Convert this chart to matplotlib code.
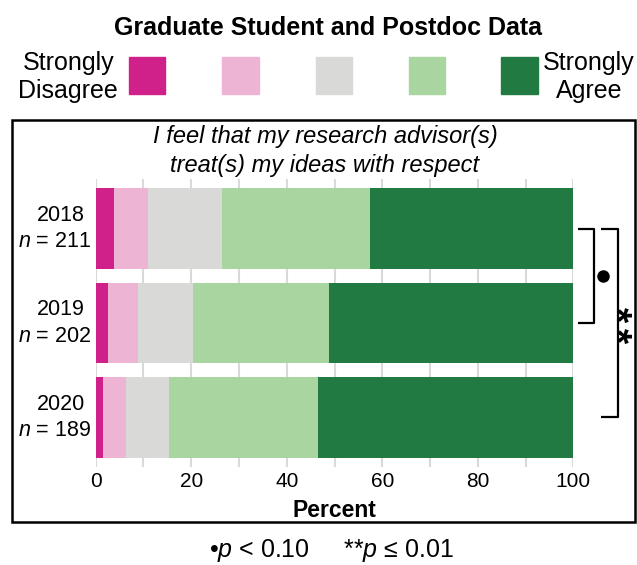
import matplotlib.pyplot as plt
import matplotlib.transforms as mtransforms
import numpy as np
from matplotlib.patches import Rectangle

plt.rcParams['font.family'] = ['Liberation Sans', 'DejaVu Sans']
plt.rcParams['mathtext.fontset'] = 'custom'
plt.rcParams['mathtext.rm'] = 'Liberation Sans'
plt.rcParams['mathtext.it'] = 'Liberation Sans:italic'
plt.rcParams['mathtext.bf'] = 'Liberation Sans:bold'

# cumulative boundaries, converted to segment sizes
years = ['2018', '2019', '2020']
counts = [211, 202, 189]
strongly_disagree = [3.8, 2.6, 1.5]
disagree = [7.1, 6.3, 4.8]
neutral = [15.5, 11.5, 9.0]
agree = [31.0, 28.4, 31.2]
strongly_agree = [42.6, 51.2, 53.5]

colors = ['#d0218a', '#edb5d3', '#d9d9d7', '#a9d5a0', '#207a41']
title = 'Graduate Student and Postdoc Data'
question = 'I feel that my research advisor(s)\ntreat(s) my ideas with respect'

W, H = 637, 565
fig = plt.figure(figsize=(W / 100, H / 100), dpi=100)

def fx(px):
    return px / W

def fy(py):
    return 1 - py / H

ax = fig.add_axes([fx(95.7), fy(467), fx(573.3) - fx(95.7), fy(179) - fy(467)])

series = [strongly_disagree, disagree, neutral, agree, strongly_agree]
ypos = np.arange(len(years))
left = np.zeros(len(years))
for vals, c in zip(series, colors):
    ax.barh(ypos, vals, left=left, height=0.857, color=c, zorder=2)
    left = left + np.array(vals)

ax.set_xlim(0, 100)
ax.set_ylim(2.524, -0.524)
ax.set_xticks(np.arange(0, 101, 20))
ax.set_xticks(np.arange(0, 101, 10), minor=True)
ax.tick_params(axis='x', which='both', length=0, labelsize=15, pad=3.5)
ax.grid(axis='x', which='both', color='#d9d9d9', linewidth=1.5, zorder=0)
ax.set_yticks([])
for s in ax.spines.values():
    s.set_visible(False)
ax.set_xlabel('Percent', fontsize=16.5, fontweight='bold', labelpad=6)

# year labels
tr = mtransforms.blended_transform_factory(fig.transFigure, ax.transData)
for i, (yr, n) in enumerate(zip(years, counts)):
    ax.text(fx(61), i - 0.14, yr, ha='center', va='center', fontsize=15.5,
            transform=tr)
    ax.text(fx(55), i + 0.14, '$\\it{n}$ = ' + str(n), ha='center',
            va='center', fontsize=15.5, transform=tr)

# significance brackets
kw = dict(color='black', linewidth=1.6, clip_on=False, solid_capstyle='butt')
ax.plot([101.0, 104.4, 104.4, 101.0], [0, 0, 1, 1], **kw)
ax.plot([105.7, 109.3, 109.3, 105.7], [0, 0, 2, 2], **kw)
ax.plot([106.3], [0.5], 'o', color='black', markersize=8, clip_on=False)
ax.text(fx(634), 1.02, '$\\mathbf{**}$', rotation=270, ha='right', va='center',
        fontsize=28, clip_on=False, transform=tr)

# question text
fig.text(fx(325), fy(151), question, ha='center', va='center',
         fontsize=17, style='italic', linespacing=1.3)

# frame
fig.patches.append(Rectangle((fx(12), fy(522)), fx(635) - fx(12), fy(120) - fy(522),
                             transform=fig.transFigure, fill=False,
                             edgecolor='black', linewidth=1.8))

# title and legend
fig.text(fx(328.5), fy(28), title, ha='center', va='center', fontsize=18,
         fontweight='bold')
sq_x = [128.6, 222, 315.5, 408.6, 501]
for x0, c in zip(sq_x, colors):
    fig.patches.append(Rectangle((fx(x0), fy(94)), fx(36.5), fy(57) - fy(94),
                                 transform=fig.transFigure, color=c))
fig.text(fx(118), fy(77), 'Strongly\nDisagree', ha='right', va='center',
         fontsize=18, multialignment='center', linespacing=1.25)
fig.text(fx(589), fy(77), 'Strongly\nAgree', ha='center', va='center',
         fontsize=18, multialignment='center', linespacing=1.25)

# footnote
fig.text(fx(331), fy(551), '•$\\it{p}$ < 0.10     **$\\it{p}$ ≤ 0.01',
         ha='center', va='center', fontsize=18)

fig.savefig('out.png', dpi=100)
